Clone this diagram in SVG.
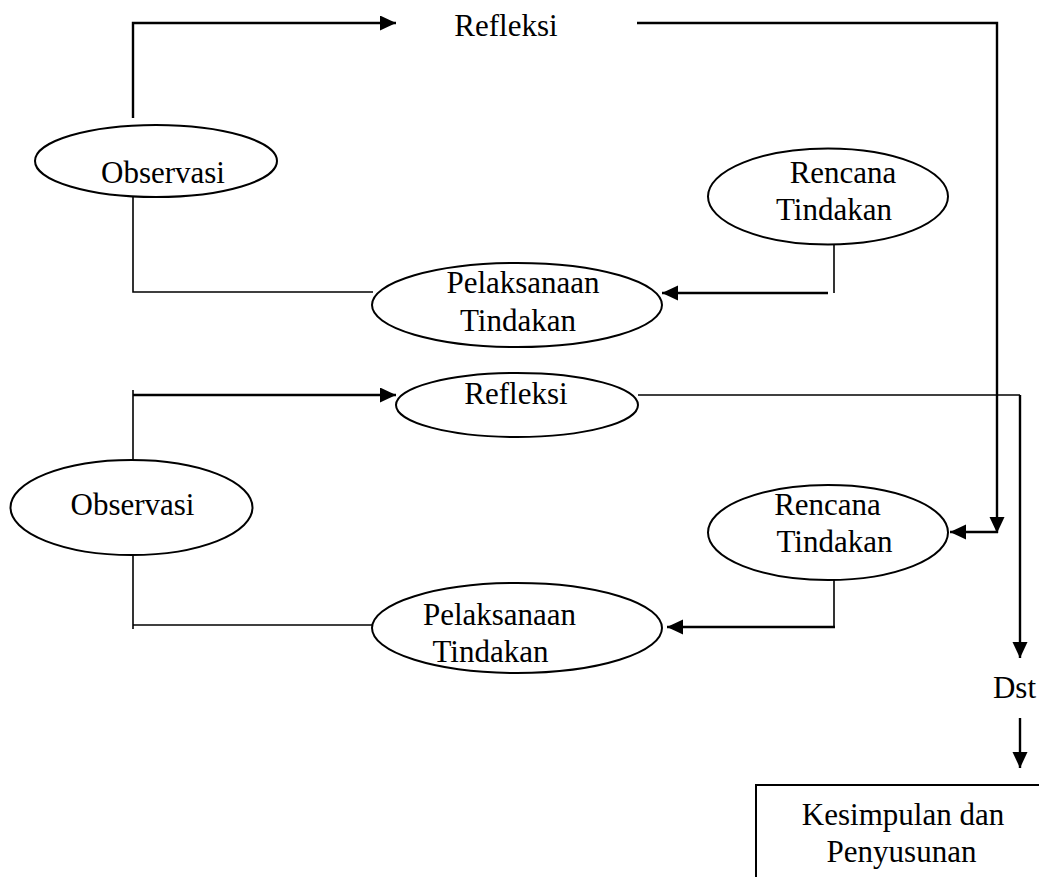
<svg xmlns="http://www.w3.org/2000/svg" width="1039" height="877" viewBox="0 0 1039 877">
<style>
text{font-family:"Liberation Serif","Times New Roman",serif;font-size:31px;fill:#000;text-anchor:middle}
.n{fill:#fff;stroke:#000;stroke-width:2}
.c{fill:none;stroke:#000;stroke-width:1.6}
.a{fill:none;stroke:#000;stroke-width:2.4}
</style>
<defs>
<marker id="ah" markerUnits="userSpaceOnUse" markerWidth="17" markerHeight="16" refX="16" refY="7.5" orient="auto">
<path d="M0,0 L16,7.5 L0,15 z" fill="#000"/>
</marker>
</defs>
<rect width="1039" height="877" fill="#fff"/>
<g id="connectors">
<path class="a" d="M133,118 V23 H396" marker-end="url(#ah)"/>
<path class="a" d="M637,23 H997 V533" marker-end="url(#ah)"/>
<path class="c" d="M133,197 V292 H373"/>
<path class="c" d="M834,245 V293"/>
<path class="a" d="M828,293 H662" marker-end="url(#ah)"/>
<path class="c" d="M133,390 V460"/>
<path class="a" d="M133,395 H396" marker-end="url(#ah)"/>
<path class="c" d="M638,395 H1020"/>
<path class="a" d="M1020,395 V658" marker-end="url(#ah)"/>
<path class="a" d="M998,532 H950" marker-end="url(#ah)"/>
<path class="c" d="M133,555 V629"/>
<path class="c" d="M133,625 H373"/>
<path class="c" d="M834,580 V627"/>
<path class="a" d="M835,627 H667" marker-end="url(#ah)"/>
<path class="a" d="M1020,718 V768" marker-end="url(#ah)"/>
</g>
<g id="refleksi1"><text x="506" y="36">Refleksi</text></g>
<g id="observasi1"><ellipse class="n" cx="156" cy="161" rx="121" ry="36"/><text x="163" y="183">Observasi</text></g>
<g id="rencana1"><ellipse class="n" cx="828" cy="196.5" rx="120" ry="48"/><text x="843" y="183">Rencana</text><text x="834" y="220">Tindakan</text></g>
<g id="pelaksanaan1"><ellipse class="n" cx="517" cy="305" rx="145" ry="42"/><text x="523" y="293">Pelaksanaan</text><text x="518" y="331">Tindakan</text></g>
<g id="refleksi2"><ellipse class="n" cx="517" cy="405" rx="121" ry="32"/><text x="516" y="404">Refleksi</text></g>
<g id="observasi2"><ellipse class="n" cx="131.5" cy="507.5" rx="121" ry="47.5"/><text x="132.5" y="515">Observasi</text></g>
<g id="rencana2"><ellipse class="n" cx="828" cy="532.5" rx="120" ry="47.5"/><text x="827.5" y="515">Rencana</text><text x="834.5" y="552">Tindakan</text></g>
<g id="pelaksanaan2"><ellipse class="n" cx="517" cy="628" rx="145" ry="45"/><text x="499.5" y="625">Pelaksanaan</text><text x="490.5" y="662">Tindakan</text></g>
<g id="dst"><text x="1014.5" y="698">Dst</text></g>
<g id="kesimpulan"><rect class="n" x="756" y="785" width="300" height="110"/><text x="903" y="825">Kesimpulan dan</text><text x="901.5" y="862">Penyusunan</text></g>
</svg>
